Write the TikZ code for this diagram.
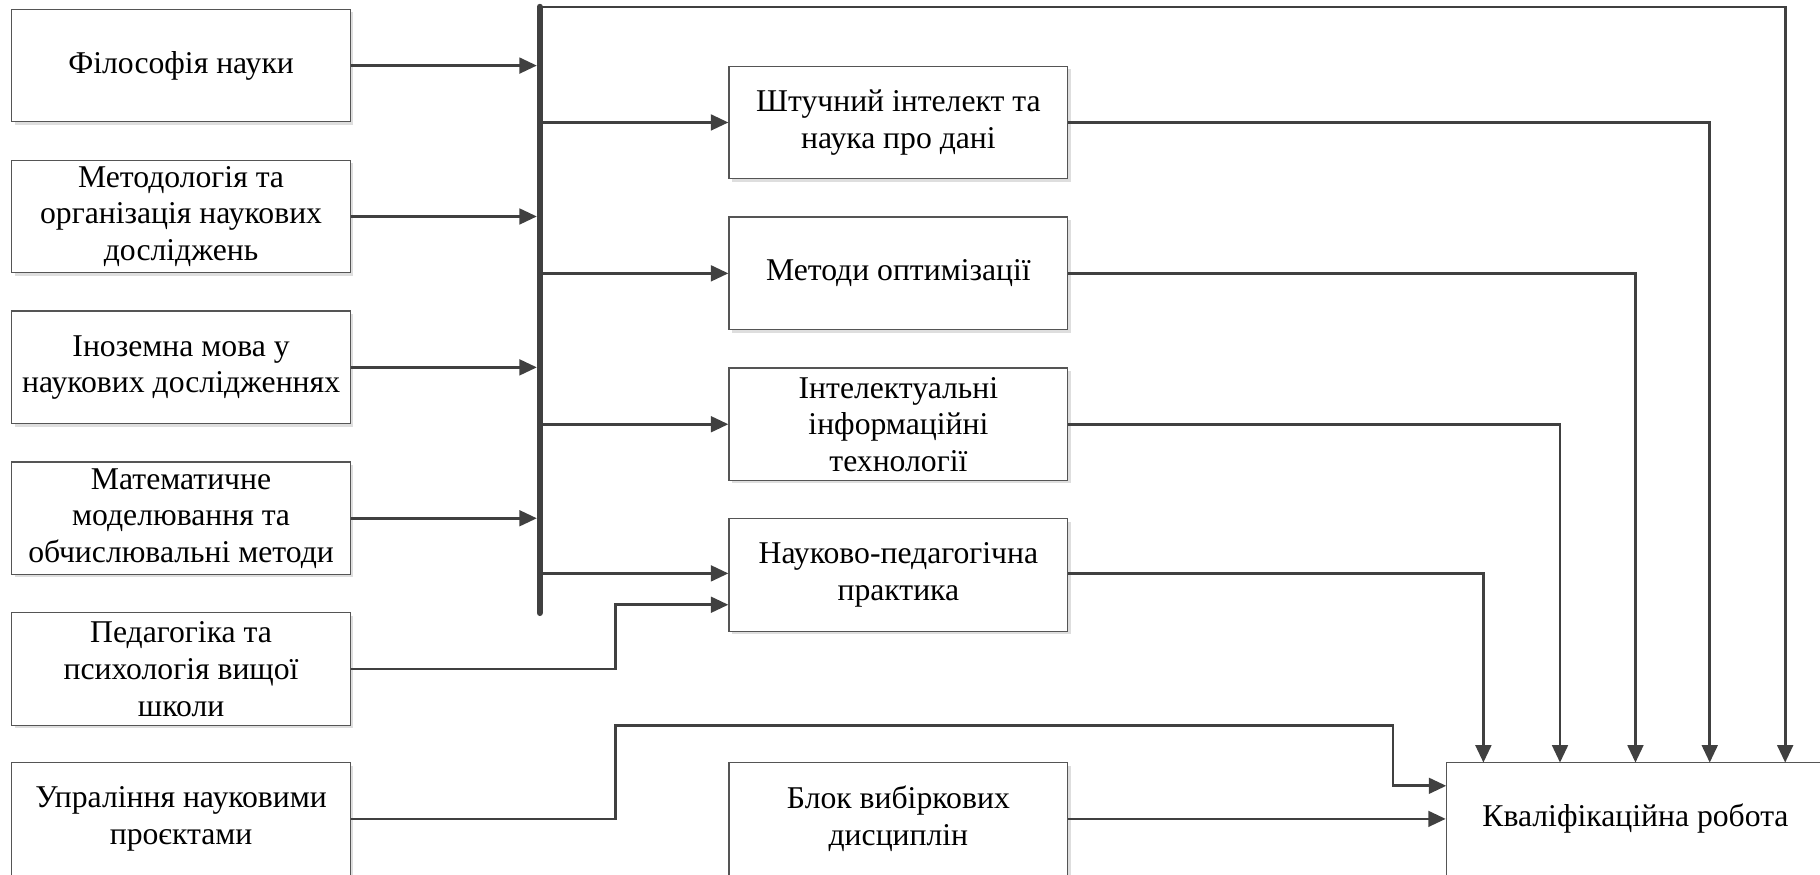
\documentclass[tikz,border=0pt]{standalone}
\usepackage{fontspec}
\setmainfont{Liberation Serif}
\usetikzlibrary{arrows.meta,shadows}
\definecolor{ln}{HTML}{404040}
\definecolor{bx}{HTML}{555555}
\tikzset{
  blk/.style={draw=bx, line width=1pt, fill=white, rectangle, align=center,
    minimum width=292pt, minimum height=97pt, inner sep=2pt,
    font=\fontsize{27.3}{31.5}\selectfont,
    drop shadow={shadow xshift=2.5pt, shadow yshift=-2.5pt, opacity=1, fill=black!13}},
  conn/.style={draw=ln, line width=2.3pt, -{Triangle[length=15pt,width=13.5pt]}},
  plain/.style={draw=ln, line width=2.3pt},
  busline/.style={draw=ln, line width=5.5pt, line cap=round}
}
\begin{document}
\begin{tikzpicture}[x=1pt,y=-1pt]
\useasboundingbox (0,0) rectangle (1568,753);
\clip (0,0) rectangle (1568,753);
% left column
\node[blk] (L1) at (156,56.5) {Філософія науки};
\node[blk] (L2) at (156,186.5) {Методологія та\\організація наукових\\досліджень};
\node[blk] (L3) at (156,316.5) {Іноземна мова у\\наукових дослідженнях};
\node[blk] (L4) at (156,446.5) {Математичне\\моделювання та\\обчислювальні методи};
\node[blk] (L5) at (156,576.5) {Педагогіка та\\психологія вищої\\школи};
\node[blk] (L6) at (156,705.5) {Упраління науковими\\проєктами};
% middle column
\node[blk] (A) at (774,105.5) {Штучний інтелект та\\наука про дані};
\node[blk] (B) at (774,235.5) {Методи оптимізації};
\node[blk] (C) at (774,365.5) {Інтелектуальні\\інформаційні\\технології};
\node[blk] (D) at (774,495.5) {Науково-педагогічна\\практика};
\node[blk] (E) at (774,705.5) {Блок вибіркових\\дисциплін};
% target
\node[blk, minimum width=326pt] (K) at (1409,705.5) {Кваліфікаційна робота};
% coordinates
\coordinate (bustop) at (465,6);
\coordinate (busbot) at (465,528);
\coordinate (k1) at (1278,657);
\coordinate (k2) at (1344,657);
\coordinate (k3) at (1409,657);
\coordinate (k4) at (1473,657);
\coordinate (k5) at (1538,657);
\coordinate (j1) at (530,521);
\coordinate (j2) at (530,625);
\coordinate (j3) at (1200,677);
\coordinate (k6) at (1246,677);
% inputs to bus
\foreach \n in {L1,L2,L3,L4}
  \draw[conn, shorten >=2.5pt] (\n.east) -- (\n.east -| bustop);
% bus outputs
\draw[conn] (bustop |- A.west) -- (A.west);
\draw[conn] (bustop |- B.west) -- (B.west);
\draw[conn] (bustop |- C.west) -- (C.west);
\draw[conn] (bustop |- 465,494) -- (D.west |- 465,494);
% top line
\draw[conn] (bustop) -| (k5);
% bus
\draw[busline] (bustop) -- (busbot);
% pedagogy
\draw[conn] (L5.east) -| (j1) -- (j1 -| D.west);
% management
\draw[conn] (L6.east) -| (j2) -| (j3) -- (k6);
% electives
\draw[conn] (E.east) -- (E.east -| K.west);
% middle to target
\draw[conn] (A.east) -| (k4);
\draw[conn] (B.east) -| (k3);
\draw[conn] (C.east) -| (k2);
\draw[conn] (D.east |- 0,494) -| (k1);
\end{tikzpicture}
\end{document}
